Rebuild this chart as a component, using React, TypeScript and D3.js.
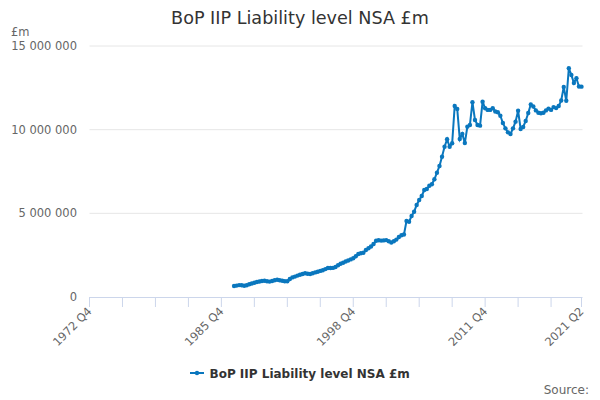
import React from "react";
import * as d3 from "d3";

const title = "BoP IIP Liability level NSA £m";
const seriesName = "BoP IIP Liability level NSA £m";
const startYear = 1972;
const startQuarter = 4;
const endYear = 2021;
const endQuarter = 2;
const dataStartIndex = 57; // 1987 Q1
const tickLabels = ["1972 Q4", "1985 Q4", "1998 Q4", "2011 Q4", "2021 Q2"];
const yTicks = [0, 5000000, 10000000, 15000000];

const values = [
  657000, 681000, 711000, 699000, 669000, 699000, 765000, 807000,
  855000, 896000, 926000, 956000, 968000, 944000, 920000, 956000,
  998000, 1028000, 998000, 968000, 938000, 944000, 1076000, 1171000,
  1219000, 1279000, 1333000, 1374000, 1416000, 1392000, 1374000, 1416000,
  1470000, 1512000, 1560000, 1602000, 1667000, 1733000, 1733000, 1739000,
  1793000, 1894000, 1984000, 2050000, 2121000, 2181000, 2247000, 2313000,
  2438000, 2570000, 2612000, 2647000, 2809000, 2916000, 3018000, 3167000,
  3358000, 3388000, 3370000, 3382000, 3400000, 3329000, 3257000, 3329000,
  3430000, 3586000, 3687000, 3735000, 4542000, 4500000, 4841000, 5098000,
  5498000, 5797000, 6036000, 6394000, 6454000, 6651000, 6735000, 7034000,
  7428000, 7829000, 8384000, 8982000, 9424000, 8982000, 9185000, 11414000,
  11240000, 9440000, 9740000, 9200000, 10180000, 10280000, 11640000, 10580000,
  10280000, 10240000, 11670000, 11280000, 11180000, 11180000, 11280000, 11090000,
  11040000, 10830000, 10400000, 10080000, 9840000, 9740000, 10080000, 10480000,
  11130000, 10040000, 10160000, 10520000, 11000000, 11500000, 11380000, 11150000,
  11010000, 10980000, 11010000, 11150000, 11260000, 11180000, 11350000, 11290000,
  11410000, 11740000, 12550000, 11730000, 13670000, 13270000, 12790000, 13070000,
  12580000, 12570000,
];

const categories: string[] = [];
{
  let y = startYear;
  let q = startQuarter;
  while (y < endYear || (y === endYear && q <= endQuarter)) {
    categories.push(`${y} Q${q}`);
    q++;
    if (q > 4) {
      q = 1;
      y++;
    }
  }
}

const points = values.map((v, i) => ({ cat: categories[dataStartIndex + i], idx: dataStartIndex + i, v }));

const W = 600;
const H = 400;
const plotLeft = 89.5;
const plotRight = 581.5;
const plotTop = 46;
const plotBottom = 297;
const color = "#0a77be";
const font = "DejaVu Sans, sans-serif";

export default function App() {
  const x = d3.scaleLinear().domain([0, categories.length - 1]).range([plotLeft, plotRight]);
  const y = d3.scaleLinear().domain([0, 15000000]).range([plotBottom, plotTop]);
  const line = d3
    .line<{ idx: number; v: number }>()
    .x((d) => x(d.idx))
    .y((d) => y(d.v));
  const fmt = (v: number) => d3.format(",")(v).replace(/,/g, " ");
  const tickIdx = d3.range(0, categories.length, 13).concat([categories.length - 1]);

  return (
    <svg width={W} height={H} style={{ position: "absolute", left: 0, top: 0, fontFamily: font }}>
      <rect width={W} height={H} fill="#fff" />
      <text x={300} y={24} textAnchor="middle" fontSize={17.6} fill="#333">
        {title}
      </text>
      <text x={11} y={36} fontSize={11.5} fill="#666">£m</text>
      {yTicks.map((t) => (
        <g key={t}>
          {t > 0 && <line x1={plotLeft} x2={plotRight + 1} y1={y(t)} y2={y(t)} stroke="#e6e6e6" strokeWidth={1} />}
          <text x={77} y={y(t) + 4} textAnchor="end" fontSize={11.5} fill="#666">
            {fmt(t)}
          </text>
        </g>
      ))}
      <line x1={plotLeft} x2={plotRight + 1} y1={plotBottom + 0.5} y2={plotBottom + 0.5} stroke="#ccd6eb" strokeWidth={1} />
      {tickIdx.map((i) => (
        <line key={i} x1={x(i)} x2={x(i)} y1={plotBottom} y2={plotBottom + 10} stroke="#ccd6eb" strokeWidth={1} />
      ))}
      {tickLabels.map((lab) => {
        const i = categories.indexOf(lab);
        return (
          <text
            key={lab}
            transform={`translate(${x(i) + 3},${plotBottom + 15}) rotate(-45)`}
            textAnchor="end"
            fontSize={11.5}
            fill="#666"
          >
            {lab}
          </text>
        );
      })}
      <path d={line(points) || ""} fill="none" stroke={color} strokeWidth={2} />
      {points.map((p) => (
        <circle key={p.idx} cx={x(p.idx)} cy={y(p.v)} r={2.2} fill={color} />
      ))}
      <g>
        <line x1={190} x2={204} y1={373} y2={373} stroke={color} strokeWidth={2} />
        <circle cx={197} cy={373} r={2.2} fill={color} />
        <text x={209.5} y={377.5} fontSize={12} fontWeight="bold" fill="#333">
          {seriesName}
        </text>
      </g>
      <text x={589} y={394} textAnchor="end" fontSize={12} fill="#666">Source:</text>
    </svg>
  );
}
